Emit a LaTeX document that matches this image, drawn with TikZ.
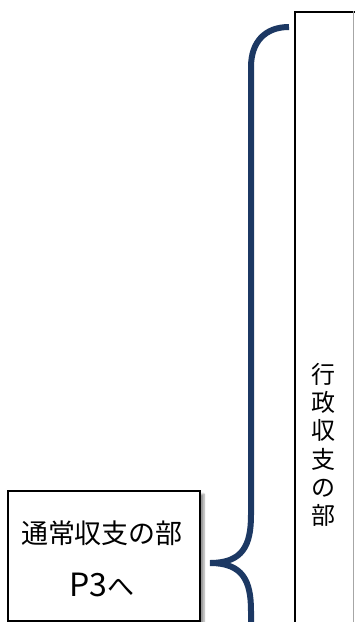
\documentclass[tikz,border=0pt]{standalone}
\usepackage{fontspec}
\newfontfamily\jp{Noto Sans CJK JP}
\newfontfamily\jplight{Noto Sans CJK JP Light}
\usetikzlibrary{shadows.blur}
\definecolor{bracenavy}{RGB}{28,56,99}
\tikzset{
  boxline/.style={draw=black, line width=2pt},
  bracestroke/.style={draw=bracenavy, line width=6pt, line cap=butt},
  jptext/.style={font=\jp\fontsize{27}{30}\selectfont, inner sep=0pt}
}
\begin{document}
\begin{tikzpicture}[x=1pt,y=-1pt]
\useasboundingbox (0,0) rectangle (355,622);
% tall right box
\node[boxline, fill=white, minimum width=64pt, minimum height=640pt, inner sep=0pt, anchor=north west] (rbox) at (294,11) {};
\draw[gray!70, line width=1pt] (353.5,11) -- (353.5,622);
\node[font=\jp\fontsize{24}{28.3}\selectfont, align=center, inner sep=0pt] (rtext) at (323,445) {行\\政\\収\\支\\の\\部};
% brace
\coordinate (btop) at (289,27);
\coordinate (btip) at (210,563);
\coordinate (bbot) at (251,640);
\draw[bracestroke] (btop) .. controls (265,27) and (251,42) .. (251,67)
  -- (251,515) .. controls (251,545) and (243,563) .. (btip)
  .. controls (243,563) and (251,581) .. (251,611) -- (bbot);
% left box
\node[boxline, fill=white, minimum width=192pt, minimum height=130pt, inner sep=0pt, anchor=north west,
  blur shadow={shadow xshift=4pt, shadow yshift=-3pt, shadow blur steps=6, shadow blur extra rounding=0pt}] (lbox) at (7,490) {};
\node[jptext] (ltext1) at (102,533) {通常収支の部};
\node[jptext, anchor=base] (ltext2) at (102,596) {{\fontsize{32}{32}\selectfont P3}へ};
\end{tikzpicture}
\end{document}
